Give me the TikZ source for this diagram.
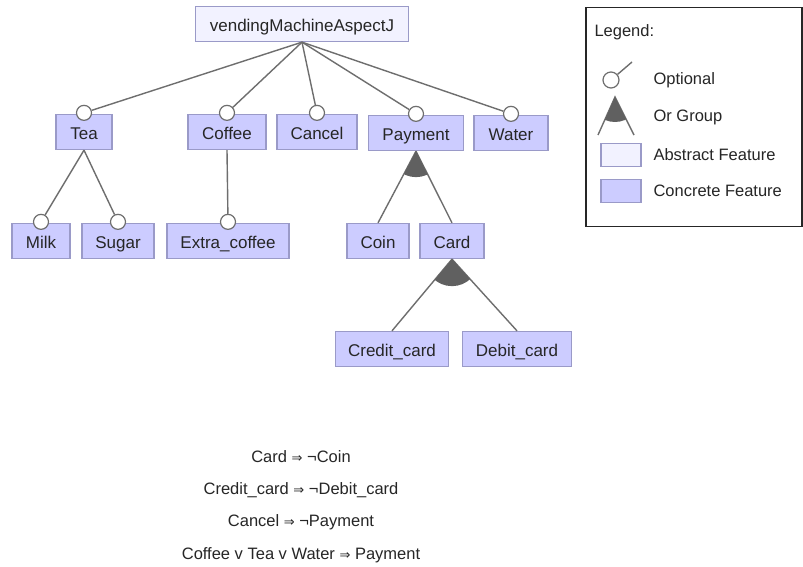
\documentclass[tikz,border=0pt]{standalone}
\usepackage{fontspec}
\setmainfont{Liberation Sans}
\newfontfamily\symf{DejaVu Sans}
\usetikzlibrary{calc}
\definecolor{cfill}{HTML}{CCCCFF}
\definecolor{afill}{HTML}{F2F2FF}
\definecolor{fborder}{HTML}{9A9AC8}
\definecolor{edge}{HTML}{6E6E6E}
\definecolor{txt}{HTML}{262626}
\definecolor{grp}{HTML}{606060}
\begin{document}
\begin{tikzpicture}[x=1pt,y=-1pt,
  feat/.style={draw=fborder,line width=1.3pt,fill=cfill,minimum height=35pt,inner sep=0pt,text height=14.5pt,text depth=0pt,text=txt,font=\fontsize{17}{20}\selectfont},
  absfeat/.style={feat,fill=afill},
  opt/.style={circle,draw=edge,fill=white,line width=1.2pt,minimum size=15pt,inner sep=0pt},
  conn/.style={draw=edge,line width=1.4pt},
  ltext/.style={anchor=west,text=txt,font=\fontsize{16.5}{19}\selectfont},
  ctext/.style={text=txt,font=\fontsize{16.5}{19}\selectfont}]
\useasboundingbox (0,0) rectangle (803,567);
\fill[white] (0,0) rectangle (803,567);
% features
\node[absfeat,minimum width=213pt] (root) at (302,24) {vendingMachineAspectJ};
\node[feat,minimum width=56pt] (tea) at (84,132) {Tea};
\node[feat,minimum width=78pt] (coffee) at (227,132) {Coffee};
\node[feat,minimum width=80pt] (cancel) at (317,132) {Cancel};
\node[feat,minimum width=95pt] (payment) at (416,133) {Payment};
\node[feat,minimum width=74pt] (water) at (511,133) {Water};
\node[feat,minimum width=58pt] (milk) at (41,241) {Milk};
\node[feat,minimum width=72pt] (sugar) at (118,241) {Sugar};
\node[feat,minimum width=122pt] (extra) at (228,241) {Extra\_coffee};
\node[feat,minimum width=62pt] (coin) at (378,241) {Coin};
\node[feat,minimum width=64pt] (card) at (452,241) {Card};
\node[feat,minimum width=113pt] (credit) at (392,349) {Credit\_card};
\node[feat,minimum width=109pt] (debit) at (517,349) {Debit\_card};
% optional markers
\node[opt] (otea) at ($(tea.north)+(0,-1)$) {};
\node[opt] (ocoffee) at ($(coffee.north)+(0,-1)$) {};
\node[opt] (ocancel) at ($(cancel.north)+(0,-1)$) {};
\node[opt] (opayment) at ($(payment.north)+(0,-1)$) {};
\node[opt] (owater) at ($(water.north)+(0,-1)$) {};
\node[opt] (omilk) at ($(milk.north)+(0,-1)$) {};
\node[opt] (osugar) at ($(sugar.north)+(0,-1)$) {};
\node[opt] (oextra) at ($(extra.north)+(0,-1)$) {};
% connectors
\draw[conn] (root.south) -- (otea);
\draw[conn] (root.south) -- (ocoffee);
\draw[conn] (root.south) -- (ocancel);
\draw[conn] (root.south) -- (opayment);
\draw[conn] (root.south) -- (owater);
\draw[conn] (tea.south) -- (omilk);
\draw[conn] (tea.south) -- (osugar);
\draw[conn] (coffee.south) -- (oextra);
\draw[conn] (payment.south) -- (coin.north);
\draw[conn] (payment.south) -- (card.north);
\draw[conn] (card.south) -- (credit.north);
\draw[conn] (card.south) -- (debit.north);
% or groups
\begin{scope}
\clip (payment.south) circle (26);
\fill[grp] (payment.south) -- (coin.north) -- (card.north) -- cycle;
\end{scope}
\begin{scope}
\clip (card.south) circle (27);
\fill[grp] (card.south) -- (credit.north) -- (debit.north) -- cycle;
\end{scope}
% legend
\node[draw=txt,line width=1.8pt,minimum width=216pt,minimum height=219pt,inner sep=0pt] (legend) at (694,117) {};
\node[ltext] (lgtitle) at (591,32) {Legend:};
\node[opt,minimum size=16pt] (lopt) at (611,80) {};
\coordinate (loptend) at (632,62);
\draw[conn] (lopt) -- (loptend);
\node[ltext] (lopttxt) at (650,80) {Optional};
\coordinate (lga) at (615,97);
\coordinate (lgl) at (598,135);
\coordinate (lgr) at (634,135);
\draw[conn] (lgl) -- (lga) -- (lgr);
\begin{scope}
\clip (lga) circle (25);
\fill[grp] (lga) -- (lgl) -- (lgr) -- cycle;
\end{scope}
\node[ltext] (lgtxt) at (650,117) {Or Group};
\node[absfeat,minimum width=40pt,minimum height=23pt,text height=0pt,text depth=0pt] (labs) at (621,155) {};
\node[ltext] (labstxt) at (650,155) {Abstract Feature};
\node[feat,minimum width=40pt,minimum height=23pt,text height=0pt,text depth=0pt] (lcon) at (621,191) {};
\node[ltext] (lcontxt) at (650,191) {Concrete Feature};
% constraints
\node[ctext] (c1) at (301,457) {Card {\symf\fontsize{13}{15}\selectfont ⇒} ¬Coin};
\node[ctext] (c2) at (301,490) {Credit\_card {\symf\fontsize{13}{15}\selectfont ⇒} ¬Debit\_card};
\node[ctext] (c3) at (301,522) {Cancel {\symf\fontsize{13}{15}\selectfont ⇒} ¬Payment};
\node[ctext] (c4) at (301,555) {Coffee v Tea v Water {\symf\fontsize{13}{15}\selectfont ⇒} Payment};
\end{tikzpicture}
\end{document}
